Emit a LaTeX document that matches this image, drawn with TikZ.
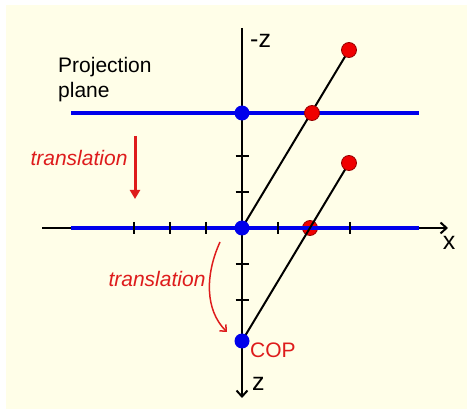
\documentclass[tikz,border=0pt]{standalone}
\usepackage{fontspec}
\setmainfont{Liberation Sans}
\usetikzlibrary{arrows.meta}
\definecolor{bg}{RGB}{255,254,232}
\definecolor{pblue}{RGB}{0,0,235}
\definecolor{dotred}{RGB}{240,0,0}
\definecolor{dotedge}{RGB}{150,0,0}
\definecolor{tred}{RGB}{222,28,28}
\begin{document}
\begin{tikzpicture}[x=1pt,y=-1pt,
  lbl/.style={font=\fontsize{21}{25}\selectfont, inner sep=0pt},
  axlbl/.style={font=\fontsize{25}{28}\selectfont, inner sep=0pt},
  redlbl/.style={lbl, text=tred, font=\fontsize{21}{25}\selectfont\itshape},
  axis/.style={line width=2pt, -{Straight Barb[length=6pt,width=11pt,line width=2pt]}},
  plane/.style={pblue, line width=4pt},
  tick/.style={line width=2pt},
  ray/.style={line width=2pt},
  bdot/.style={circle, fill=pblue, minimum size=15pt, inner sep=0pt},
  rdot/.style={circle, fill=dotred, draw=dotedge, line width=0.8pt, minimum size=15pt, inner sep=0pt}]
\useasboundingbox (0,0) rectangle (467,409);
\fill[bg] (6,5) rectangle (467,409);
% positions
\coordinate (zt) at (242,28);
\coordinate (zb) at (242,398);
\coordinate (xl) at (42,228);
\coordinate (xr) at (448,228);
\coordinate (pl1) at (71,113);
\coordinate (pr1) at (419,113);
\coordinate (pl2) at (71,228);
\coordinate (pr2) at (419,228);
\coordinate (B1) at (242,113);
\coordinate (O) at (242,228);
\coordinate (COP) at (242,341);
\coordinate (R1) at (349,50);
\coordinate (R1p) at (312,113);
\coordinate (R2) at (349,163);
\coordinate (R2p) at (310,228);
% axes
\draw[axis] (xl) -- (xr);
\draw[axis] (zt) -- (zb);
% hidden red point under plane
\node[rdot] (r2p) at (R2p) {};
% planes
\draw[plane] (pl1) -- (pr1);
\draw[plane] (pl2) -- (pr2);
% ticks
\foreach \y in {156,192,264,300} \draw[tick] (235.5,\y) -- (248.5,\y);
\foreach \x in {134,170,206,278,350} \draw[tick] (\x,222) -- (\x,234);
% rays
\draw[ray] (O) -- (R1);
\draw[ray] (COP) -- (R2);
% dots
\node[rdot] (r1) at (R1) {};
\node[rdot] (r1p) at (R1p) {};
\node[rdot] (r2) at (R2) {};
\node[bdot] (b1) at (B1) {};
\node[bdot] (o) at (O) {};
\node[bdot] (cop) at (COP) {};
% labels
\node[axlbl, anchor=base west] (mz) at (250,48) {-z};
\node[axlbl, anchor=base] (xlab) at (449,250) {x};
\node[axlbl, anchor=base west] (zlab) at (252,391) {z};
\node[lbl, anchor=north west, align=left] (pp) at (58,57) {Projection\\plane};
\node[lbl, text=tred, anchor=base west] (coplab) at (250,358) {COP};
\node[redlbl, anchor=base] (t1) at (79,166) {translation};
\node[redlbl, anchor=base] (t2) at (157,287) {translation};
% translation arrows
\coordinate (a1s) at (135,136);
\coordinate (a1e) at (135,199);
\draw[tred, line width=3pt, -{Triangle[length=9pt,width=10pt]}] (a1s) -- (a1e);
\coordinate (a2s) at (220,242);
\coordinate (a2e) at (227,332);
\draw[tred, line width=1.5pt, -{Straight Barb[length=5pt,width=9pt,line width=1.5pt]}] (a2s) .. controls (205,275) and (205,310) .. (a2e);
\end{tikzpicture}
\end{document}
